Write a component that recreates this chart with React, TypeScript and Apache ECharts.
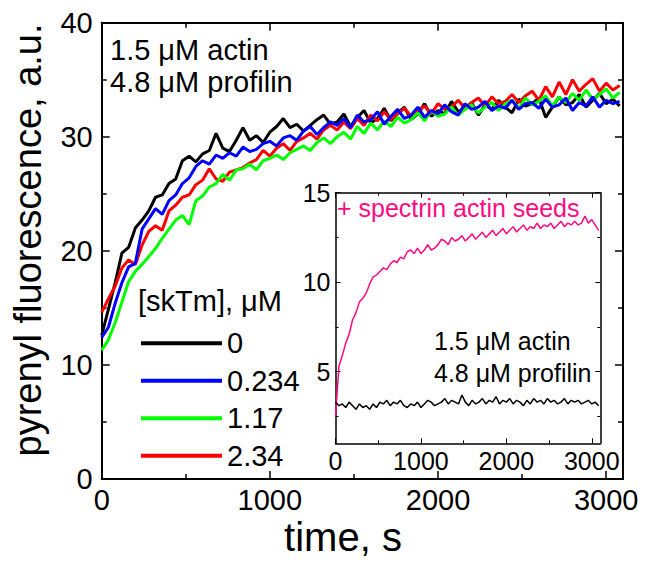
import React, { useEffect, useRef } from "react";
import * as echarts from "echarts";

const FONT = '"Liberation Sans", Arial, Helvetica, sans-serif';

// time samples (s)
const times = [0,40,80,120,160,200,240,280,320,360,400,440,480,520,560,600,640,680,720,760,800,840,880,920,960,1000,1040,1080,1120,1160,1200,1240,1280,1320,1360,1400,1440,1480,1520,1560,1600,1640,1680,1720,1760,1800,1840,1880,1920,1960,2000,2040,2080,2120,2160,2200,2240,2280,2320,2360,2400,2440,2480,2520,2560,2600,2640,2680,2720,2760,2800,2840,2880,2920,2960,3000,3040,3080];

// main panel: pyrenyl fluorescence for each [skTm]
const skTm0 = [12.6,14.9,17.2,19.8,20.3,22.0,22.7,23.5,24.7,24.9,25.9,26.3,27.9,28.3,27.8,28.5,28.8,30.3,29.0,28.7,29.7,30.8,29.7,30.1,29.5,30.4,30.9,31.6,30.8,31.1,30.5,31.0,31.5,31.9,31.1,
  31.3,32.0,30.9,31.7,32.3,31.2,31.6,32.5,31.4,32.1,32.6,31.5,32.0,32.9,31.8,32.3,32.0,33.1,32.2,32.5,33.0,31.9,32.8,32.4,33.2,32.6,32.1,33.3,32.7,32.9,33.4,31.7,32.6,33.5,32.8,33.0,33.7,32.6,33.2,33.8,32.9,33.3,32.7];
const skTm0234 = [12.4,13.3,15.4,17.2,18.6,18.9,21.9,22.8,23.7,23.2,24.4,24.9,25.9,26.4,27.4,27.9,27.6,28.4,28.1,28.6,28.3,29.1,28.7,28.9,29.4,29.6,29.2,29.9,30.1,29.7,30.5,30.9,30.2,30.8,31.3,
  31.0,31.6,30.8,31.9,31.3,31.5,32.2,31.1,31.8,32.4,31.6,31.9,32.6,31.7,32.3,32.0,32.8,32.2,31.9,32.9,32.4,32.6,33.1,32.3,32.7,32.5,33.2,32.4,32.9,33.0,32.5,33.3,32.6,32.8,33.4,32.3,33.0,32.7,33.5,32.6,33.2,32.9,33.1];
const skTm117 = [11.3,12.2,13.7,15.5,17.3,18.2,18.8,19.5,20.2,21.1,21.9,22.7,23.1,22.3,24.4,24.8,25.6,25.9,26.7,26.2,27.1,27.2,27.6,27.1,27.9,28.1,28.4,28.0,28.6,28.9,29.2,28.8,29.5,29.9,29.4,
  30.0,30.4,29.8,30.9,30.3,31.2,30.6,31.4,30.9,31.7,31.2,31.5,32.1,31.4,32.3,31.8,32.0,32.6,31.9,32.4,32.8,32.1,32.6,33.0,32.3,32.9,33.2,32.5,33.4,32.8,33.1,33.6,32.7,33.5,33.0,33.8,33.2,34.1,33.3,33.7,34.2,33.4,33.9];
const skTm234 = [14.6,15.8,16.9,18.5,19.2,18.8,20.5,21.7,22.2,21.8,23.5,24.0,24.7,24.9,25.8,26.2,27.2,26.3,26.1,26.9,27.1,27.3,27.7,28.0,28.8,28.3,29.0,29.4,28.8,29.6,29.9,30.3,29.8,30.6,31.0,
  30.6,31.3,30.7,31.6,31.0,31.9,31.4,32.2,31.5,32.0,32.5,31.8,32.3,32.7,32.0,32.9,32.4,32.6,33.2,32.5,33.0,33.4,32.7,33.5,32.9,33.1,33.7,33.0,33.6,34.0,33.2,34.4,33.5,34.8,33.7,35.0,34.0,34.6,35.1,34.0,34.7,34.1,34.5];

// inset panel
const withSeeds = [2.5,5.3,5.9,6.6,7.1,7.9,8.3,8.9,9.1,9.4,9.9,10.3,10.4,10.6,10.8,10.7,11.0,11.2,11.1,11.4,11.3,11.7,11.8,11.6,11.9,11.6,11.8,12.1,11.8,11.9,12.1,12.4,12.3,12.1,12.5,12.3,12.4,12.6,12.3,12.5,12.7,12.4,12.6,12.8,12.5,12.7,12.9,12.6,12.8,13.0,12.7,12.9,13.1,12.8,13.0,13.2,12.9,13.1,13.0,13.3,13.0,13.2,13.1,13.3,13.0,13.2,13.4,13.1,13.3,13.2,13.4,13.2,13.3,13.7,13.3,13.5,13.2,12.9];
const noSeeds = [3.3,3.1,3.2,3.0,3.3,3.1,2.9,3.2,3.0,3.1,2.9,3.2,3.0,3.3,3.2,3.4,3.1,3.3,3.2,3.4,3.1,3.0,3.2,3.1,3.3,3.0,3.2,3.4,3.3,3.1,3.2,3.3,3.5,3.2,3.4,3.3,3.2,3.7,3.3,3.1,3.4,3.2,3.3,3.5,3.2,3.4,3.3,3.6,3.2,3.4,3.3,3.5,3.2,3.4,3.3,3.1,3.4,3.2,3.5,3.3,3.4,3.2,3.5,3.3,3.4,3.2,3.3,3.5,3.2,3.4,3.3,3.4,3.2,3.3,3.4,3.2,3.3,3.1];

// legend / ticks
const legendNames = ["0", "0.234", "1.17", "2.34"];
const mainXMajor = [0, 1000, 2000, 3000];
const mainXMinor = [500, 1500, 2500];
const mainYMajor = [0, 10, 20, 30, 40];
const mainYMinor = [5, 15, 25, 35];
const insetXMajor = [0, 1000, 2000, 3000];
const insetXMinor = [500, 1500, 2500];
const insetYMajor = [5, 10, 15];
const insetYMinor = [2.5, 7.5, 12.5];

const pair = (ys: number[]) => times.map((t, i) => [t, ys[i]]);

function ax(
  gridIndex: number,
  position: string,
  min: number,
  max: number,
  ticks: number[],
  len: number,
  lineShow: boolean,
  lineW: number,
  tickW: number,
  labels: number[] | null,
  labelOpts: any
) {
  return {
    gridIndex,
    type: "value",
    position,
    min,
    max,
    splitLine: { show: false },
    minorTick: { show: false },
    axisLine: { show: lineShow, onZero: false, lineStyle: { color: "#000", width: lineW } },
    axisTick: {
      show: true,
      inside: true,
      length: len,
      customValues: ticks,
      lineStyle: { color: "#000", width: tickW },
    },
    axisLabel: labels
      ? {
          show: true,
          customValues: labels,
          color: "#000",
          fontFamily: FONT,
          formatter: (v: number) => String(v),
          ...labelOpts,
        }
      : { show: false },
  };
}

export default function App() {
  const ref = useRef<HTMLDivElement>(null);
  useEffect(() => {
    if (!ref.current) return;
    const chart = echarts.init(ref.current, undefined, { renderer: "svg" });
    const MG = { left: 101.7, top: 22.7, width: 521.3, height: 456.3 };
    const IG = { left: 335.5, top: 192.7, width: 264.8, height: 250.6 };
    const XMAX = 3100;
    const mainXLab = { fontSize: 29, margin: 6 };
    const mainYLab = { fontSize: 29, margin: 9 };
    const inXLab = { fontSize: 25, margin: 5 };
    const inYLab = { fontSize: 25, margin: 5 };

    const option: any = {
      animation: false,
      backgroundColor: "#fff",
      textStyle: { fontFamily: FONT },
      grid: [
        { ...MG, show: false, outerBoundsMode: "none" },
        { ...MG, show: false, outerBoundsMode: "none" },
        { ...IG, show: true, backgroundColor: "#fff", borderWidth: 0, outerBoundsMode: "none" },
        { ...IG, show: false, outerBoundsMode: "none" },
      ],
      xAxis: [
        ax(0, "bottom", 0, XMAX, mainXMajor, 8, true, 2, 1.5, mainXMajor, mainXLab),
        ax(0, "top", 0, XMAX, mainXMajor, 8, true, 2, 1.5, null, null),
        ax(1, "bottom", 0, XMAX, mainXMinor, 5, false, 2, 1.5, null, null),
        ax(1, "top", 0, XMAX, mainXMinor, 5, false, 2, 1.5, null, null),
        ax(2, "bottom", 0, XMAX, insetXMajor, 5, true, 1.5, 1, insetXMajor, inXLab),
        ax(2, "top", 0, XMAX, insetXMajor, 5, true, 1.5, 1, null, null),
        ax(3, "bottom", 0, XMAX, insetXMinor, 3, false, 1.5, 1, null, null),
        ax(3, "top", 0, XMAX, insetXMinor, 3, false, 1.5, 1, null, null),
      ],
      yAxis: [
        ax(0, "left", 0, 40, mainYMajor, 8, true, 2, 1.5, mainYMajor, mainYLab),
        ax(0, "right", 0, 40, mainYMajor, 8, true, 2, 1.5, null, null),
        ax(1, "left", 0, 40, mainYMinor, 5, false, 2, 1.5, null, null),
        ax(1, "right", 0, 40, mainYMinor, 5, false, 2, 1.5, null, null),
        ax(2, "left", 1, 15, insetYMajor, 5, true, 1.5, 1, insetYMajor, inYLab),
        ax(2, "right", 1, 15, insetYMajor, 5, true, 1.5, 1, null, null),
        ax(3, "left", 1, 15, insetYMinor, 3, false, 1.5, 1, null, null),
        ax(3, "right", 1, 15, insetYMinor, 3, false, 1.5, 1, null, null),
      ],
      legend: {
        data: legendNames,
        orient: "vertical",
        left: 136,
        top: 319.5,
        icon: "rect",
        itemWidth: 81,
        itemHeight: 4,
        itemGap: 0,
        selectedMode: false,
        textStyle: { fontSize: 29, lineHeight: 37.5, color: "#000", fontFamily: FONT },
      },
      series: [
        { name: "0", color: "#000000", data: pair(skTm0) },
        { name: "2.34", color: "#ff0000", data: pair(skTm234) },
        { name: "1.17", color: "#00ff00", data: pair(skTm117) },
        { name: "0.234", color: "#0000ff", data: pair(skTm0234) },
      ]
        .map((s) => ({
          type: "line",
          name: s.name,
          xAxisIndex: 0,
          yAxisIndex: 0,
          symbol: "none",
          showSymbol: false,
          data: s.data,
          itemStyle: { color: s.color },
          lineStyle: { color: s.color, width: 3 },
        }))
        .concat([
          {
            type: "line",
            name: "+ spectrin actin seeds",
            xAxisIndex: 4,
            yAxisIndex: 4,
            symbol: "none",
            showSymbol: false,
            data: pair(withSeeds),
            itemStyle: { color: "#ff0a84" },
            lineStyle: { color: "#ff0a84", width: 1.5 },
          } as any,
          {
            type: "line",
            name: "no seeds",
            xAxisIndex: 4,
            yAxisIndex: 4,
            symbol: "none",
            showSymbol: false,
            data: pair(noSeeds),
            itemStyle: { color: "#000" },
            lineStyle: { color: "#000", width: 1.5 },
          } as any,
        ]),
      graphic: [
        {
          type: "text",
          x: 28,
          y: 240,
          rotation: Math.PI / 2,
          style: {
            text: "pyrenyl fluorescence, a.u.",
            fontSize: 38,
            fontFamily: FONT,
            fill: "#000",
            align: "center",
            verticalAlign: "middle",
          },
        },
        {
          type: "text",
          x: 343,
          y: 537,
          style: { text: "time, s", fontSize: 40, fontFamily: FONT, fill: "#000", align: "center", verticalAlign: "middle" },
        },
        {
          type: "text",
          x: 110,
          y: 50,
          style: { text: "1.5 μM actin", fontSize: 29, fontFamily: FONT, fill: "#000", align: "left", verticalAlign: "middle" },
        },
        {
          type: "text",
          x: 110,
          y: 82,
          style: { text: "4.8 μM profilin", fontSize: 29, fontFamily: FONT, fill: "#000", align: "left", verticalAlign: "middle" },
        },
        {
          type: "text",
          x: 138,
          y: 301,
          style: { text: "[skTm], μM", fontSize: 29, fontFamily: FONT, fill: "#000", align: "left", verticalAlign: "middle" },
        },
        {
          type: "text",
          x: 337,
          y: 208,
          z: 10,
          style: { text: "+ spectrin actin seeds", fontSize: 25, fontFamily: FONT, fill: "#ff0a84", align: "left", verticalAlign: "middle" },
        },
        {
          type: "text",
          x: 434,
          y: 341,
          z: 10,
          style: { text: "1.5 μM actin", fontSize: 25, fontFamily: FONT, fill: "#000", align: "left", verticalAlign: "middle" },
        },
        {
          type: "text",
          x: 434,
          y: 373,
          z: 10,
          style: { text: "4.8 μM profilin", fontSize: 25, fontFamily: FONT, fill: "#000", align: "left", verticalAlign: "middle" },
        },
      ],
    };
    chart.setOption(option);
    return () => chart.dispose();
  }, []);
  return (
    <div
      ref={ref}
      style={{ position: "fixed", left: 0, top: 0, width: 654, height: 562, background: "#fff" }}
    />
  );
}
